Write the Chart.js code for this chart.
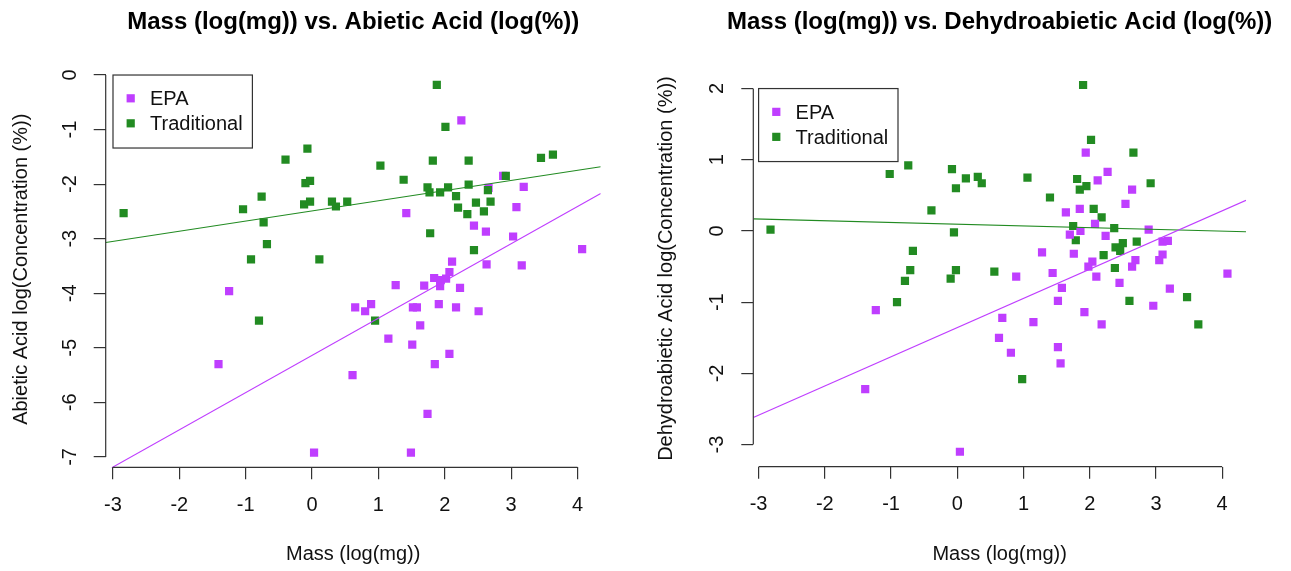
<!DOCTYPE html>
<html>
<head>
<meta charset="utf-8">
<script src="https://cdn.jsdelivr.net/npm/chart.js@4.4.1/dist/chart.umd.min.js"></script>
<style>
  html, body { margin: 0; padding: 0; background: #fff; }
  body { width: 1291px; height: 571px; overflow: hidden; position: relative; }
  canvas { position: absolute; top: 0; display: block; }
</style>
</head>
<body>
<canvas id="left" width="645" height="571" style="left:0px"></canvas>
<canvas id="right" width="646" height="571" style="left:645px"></canvas>
<script>
// ---------- data ----------
const xTicks = [-3, -2, -1, 0, 1, 2, 3, 4];
const abieticYTicks = [-7, -6, -5, -4, -3, -2, -1, 0];
const dehydroYTicks = [-3, -2, -1, 0, 1, 2];

// Abietic acid panel
const abieticEpaX = [-1.25,-1.41,0.03,0.61,2.25,2.88,2.66,3.19,1.42,3.08,2.44,2.62,3.03,4.07,2.11,2.63,3.16,2.07,1.84,1.94,2.02,1.93,1.26,1.69,2.23,0.65,0.80,0.89,1.52,1.58,1.91,2.17,2.51,1.63,1.15,1.51,2.07,1.85,1.74,1.49];
const abieticEpaY = [-3.96,-5.30,-6.92,-5.50,-0.83,-1.85,-2.07,-2.05,-2.53,-2.42,-2.76,-2.87,-2.96,-3.19,-3.42,-3.47,-3.49,-3.61,-3.72,-3.76,-3.73,-3.87,-3.85,-3.86,-3.90,-4.26,-4.33,-4.20,-4.26,-4.26,-4.20,-4.26,-4.33,-4.59,-4.83,-4.94,-5.11,-5.30,-6.21,-6.92];
const abieticTradX = [-2.84,-1.04,-0.76,-0.73,-0.68,-0.92,-0.80,-0.40,-0.07,-0.10,-0.03,-0.12,-0.03,0.11,0.30,0.36,0.53,1.88,2.01,1.03,1.38,1.82,2.36,3.45,3.63,1.74,1.77,1.93,2.05,2.17,2.36,2.20,2.34,2.47,2.59,2.69,2.65,2.92,1.78,2.44,0.95];
const abieticTradY = [-2.53,-2.46,-2.23,-2.70,-3.10,-3.38,-4.50,-1.55,-1.35,-1.98,-1.94,-2.37,-2.32,-3.38,-2.32,-2.41,-2.32,-0.18,-0.95,-1.66,-1.92,-1.57,-1.57,-1.52,-1.46,-2.06,-2.15,-2.15,-2.06,-2.22,-2.01,-2.43,-2.55,-2.34,-2.50,-2.32,-2.11,-1.85,-2.90,-3.21,-4.50];
// fitted lines, read at the plot edges
const abieticLineX = [-3.11, 4.35];
const abieticEpaLineY = [-7.26, -2.17];
const abieticTradLineY = [-3.07, -1.68];

// Dehydroabietic acid panel
const dehydroEpaX = [-1.23,-1.39,0.04,0.68,0.63,0.81,0.89,1.94,2.27,2.12,2.64,2.54,1.64,1.85,2.08,1.70,1.86,2.24,2.89,3.10,3.18,3.10,3.05,2.69,2.64,1.28,1.76,2.04,1.98,2.10,1.44,1.58,2.45,4.08,3.21,1.52,2.96,1.92,2.18,1.15,1.52,1.56];
const dehydroEpaY = [-1.11,-2.22,-3.10,-1.22,-1.50,-1.71,-0.64,1.10,0.83,0.71,0.58,0.38,0.26,0.31,0.10,-0.05,0.00,-0.07,0.02,-0.15,-0.14,-0.33,-0.41,-0.41,-0.50,-0.30,-0.32,-0.43,-0.50,-0.64,-0.59,-0.80,-0.73,-0.60,-0.81,-0.98,-1.05,-1.14,-1.31,-1.28,-1.63,-1.86];
const dehydroTradX = [-2.82,-1.02,-0.74,-0.08,0.13,0.31,0.37,-0.02,-0.39,-0.05,-0.67,-0.71,-0.79,-0.91,-0.02,-0.10,0.56,1.90,2.02,2.66,1.06,1.81,1.95,1.85,2.92,1.40,2.06,2.18,1.75,1.79,2.37,2.50,2.39,2.46,2.71,2.21,2.38,2.60,3.47,3.64,0.98];
const dehydroTradY = [0.02,0.80,0.92,0.87,0.74,0.76,0.67,0.60,0.29,-0.02,-0.28,-0.55,-0.70,-1.00,-0.55,-0.67,-0.57,2.05,1.28,1.10,0.75,0.73,0.63,0.58,0.67,0.47,0.31,0.19,0.07,-0.13,0.04,-0.17,-0.23,-0.28,-0.15,-0.34,-0.52,-0.98,-0.93,-1.31,-2.08];
const dehydroLineX = [-3.08, 4.36];
const dehydroEpaLineY = [-2.62, 0.43];
const dehydroTradLineY = [0.17, -0.01];

const seriesLabels = ['EPA', 'Traditional'];

// ---------- styling ----------
const FONT = '"Liberation Sans", Arial, Helvetica, sans-serif';
const PURPLE = '#BF3EFF';
const GREEN = '#228B22';
const AXIS = '#333333';
const TEXT = '#111111';

function pts(xs, ys) { return xs.map((x, i) => ({ x: x, y: ys[i] })); }

const rAxisLines = {
  id: 'rAxisLines',
  afterDraw(chart) {
    const { ctx, chartArea: a, scales: { x, y } } = chart;
    const xt = x.ticks, yt = y.ticks;
    ctx.save();
    ctx.strokeStyle = AXIS;
    ctx.lineWidth = 1.2;
    ctx.beginPath();
    ctx.moveTo(x.getPixelForValue(xt[0].value), a.bottom);
    ctx.lineTo(x.getPixelForValue(xt[xt.length - 1].value), a.bottom);
    ctx.moveTo(a.left, y.getPixelForValue(yt[0].value));
    ctx.lineTo(a.left, y.getPixelForValue(yt[yt.length - 1].value));
    ctx.stroke();
    ctx.restore();
  }
};

const rTitle = {
  id: 'rTitle',
  afterDraw(chart, args, opts) {
    const { ctx, chartArea: a } = chart;
    ctx.save();
    ctx.font = 'bold 24px ' + FONT;
    ctx.fillStyle = '#000';
    ctx.textAlign = 'center';
    ctx.textBaseline = 'middle';
    ctx.fillText(opts.text, (a.left + a.right) / 2, opts.y);
    ctx.restore();
  }
};

const rLegend = {
  id: 'rLegend',
  afterDraw(chart, args, opts) {
    const { ctx, scales: { x, y } } = chart;
    const bx = x.getPixelForValue(opts.anchorX);
    const by = y.getPixelForValue(opts.anchorY);
    ctx.save();
    ctx.strokeStyle = AXIS;
    ctx.lineWidth = 1.2;
    ctx.strokeRect(bx, by, opts.width, opts.height);
    ctx.font = '20px ' + FONT;
    ctx.textBaseline = 'middle';
    ctx.textAlign = 'left';
    seriesLabels.forEach((lab, i) => {
      const ds = chart.data.datasets.find(d => d.label === lab);
      const cy = by + opts.firstRow + i * opts.rowGap;
      ctx.fillStyle = ds.backgroundColor;
      ctx.fillRect(bx + opts.markerX - 4.1, cy - 4.1, 8.2, 8.2);
      ctx.fillStyle = TEXT;
      ctx.fillText(lab, bx + opts.textX, cy + 1.2);
    });
    ctx.restore();
  }
};

function makeChart(canvasId, cfg) {
  const ctx = document.getElementById(canvasId);
  const datasets = [
    { type: 'line', label: 'EPA fit', data: pts(cfg.lineX, cfg.epaLineY), borderColor: PURPLE, borderWidth: 1.1, pointRadius: 0, fill: false, order: 0 },
    { type: 'line', label: 'Traditional fit', data: pts(cfg.lineX, cfg.tradLineY), borderColor: GREEN, borderWidth: 1.1, pointRadius: 0, fill: false, order: 1 },
    { type: 'scatter', label: 'EPA', data: pts(cfg.epaX, cfg.epaY), backgroundColor: PURPLE, borderColor: PURPLE, borderWidth: 0, pointStyle: 'rect', pointRadius: 5.8, order: cfg.epaOrder },
    { type: 'scatter', label: 'Traditional', data: pts(cfg.tradX, cfg.tradY), backgroundColor: GREEN, borderColor: GREEN, borderWidth: 0, pointStyle: 'rect', pointRadius: 5.8, order: cfg.tradOrder }
  ];
  return new Chart(ctx, {
    type: 'scatter',
    data: { datasets },
    plugins: [rAxisLines, rTitle, rLegend],
    options: {
      responsive: false,
      animation: false,
      events: [],
      devicePixelRatio: 1,
      layout: { padding: { top: cfg.padTop, right: cfg.padRight, left: 0, bottom: 0 } },
      plugins: {
        legend: { display: false },
        tooltip: { enabled: false },
        title: { display: false },
        rTitle: { text: cfg.title, y: 22.8 },
        rLegend: { anchorX: cfg.legendX, anchorY: cfg.legendY, width: 139.4, height: 73, markerX: 17.7, textX: 37, firstRow: 23.3, rowGap: 25 }
      },
      scales: {
        x: {
          type: 'linear',
          min: cfg.xMin, max: cfg.xMax,
          afterBuildTicks: s => { s.ticks = xTicks.map(v => ({ value: v })); },
          afterFit: s => { s.height = cfg.xHeight; },
          grid: { drawOnChartArea: false, drawTicks: true, tickLength: 12, color: AXIS, lineWidth: 1.2 },
          border: { display: false },
          ticks: { autoSkip: false, minRotation: 0, maxRotation: 0, padding: 13.7, color: TEXT, font: { family: FONT, size: 20 }, callback: v => String(v) },
          title: { display: true, text: 'Mass (log(mg))', color: TEXT, font: { family: FONT, size: 20 }, padding: { top: 0, bottom: 4.6 } }
        },
        y: {
          type: 'linear',
          min: cfg.yMin, max: cfg.yMax,
          afterBuildTicks: s => { s.ticks = cfg.yTicks.map(v => ({ value: v })); },
          afterFit: s => { s.width = cfg.yWidth; },
          grid: { drawOnChartArea: false, drawTicks: true, tickLength: 12, color: AXIS, lineWidth: 1.2 },
          border: { display: false },
          ticks: { autoSkip: false, minRotation: 90, maxRotation: 90, crossAlign: 'center', padding: 14.6, color: TEXT, font: { family: FONT, size: 20 }, callback: v => String(v) },
          title: { display: true, text: cfg.yTitle, color: TEXT, font: { family: FONT, size: 20 }, padding: { top: 9.5, bottom: 0 } }
        }
      }
    }
  });
}

makeChart('left', {
  title: 'Mass (log(mg)) vs. Abietic Acid (log(%))',
  yTitle: 'Abietic Acid log(Concentration (%))',
  epaX: abieticEpaX, epaY: abieticEpaY, tradX: abieticTradX, tradY: abieticTradY,
  lineX: abieticLineX, epaLineY: abieticEpaLineY, tradLineY: abieticTradLineY,
  yTicks: abieticYTicks,
  xMin: -3.11, xMax: 4.35, yMin: -7.19, yMax: 0.07,
  padTop: 71.2, padRight: 44.3, yWidth: 105.7, xHeight: 103.7,
  legendX: -3, legendY: 0,
  epaOrder: 3, tradOrder: 2
});

makeChart('right', {
  title: 'Mass (log(mg)) vs. Dehydroabietic Acid (log(%))',
  yTitle: 'Dehydroabietic Acid log(Concentration (%))',
  epaX: dehydroEpaX, epaY: dehydroEpaY, tradX: dehydroTradX, tradY: dehydroTradY,
  lineX: dehydroLineX, epaLineY: dehydroEpaLineY, tradLineY: dehydroTradLineY,
  yTicks: dehydroYTicks,
  xMin: -3.08, xMax: 4.36, yMin: -3.31, yMax: 2.255,
  padTop: 70.4, padRight: 45, yWidth: 108.3, xHeight: 104.3,
  legendX: -3, legendY: 2,
  epaOrder: 2, tradOrder: 3
});
</script>
</body>
</html>
